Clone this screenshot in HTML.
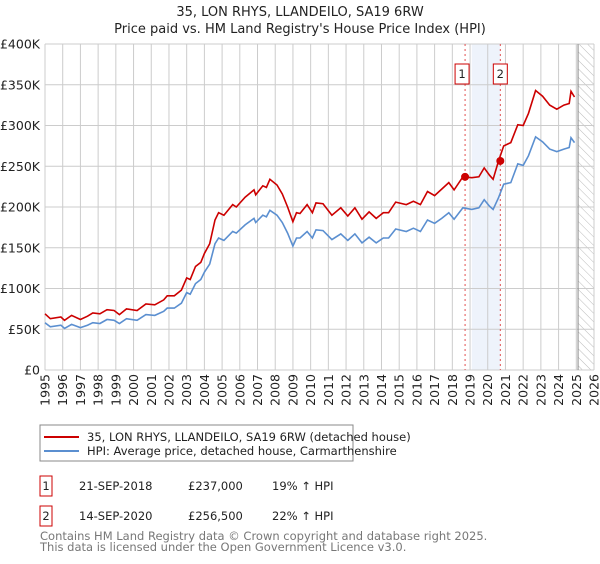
<!DOCTYPE html>
<html><head><meta charset="utf-8"><style>
body{margin:0;background:#fff;width:600px;height:560px;overflow:hidden;font-family:"DejaVu Sans","Liberation Sans",sans-serif;}
svg text{font-family:"DejaVu Sans","Liberation Sans",sans-serif;}
</style></head><body>
<svg id="chart" width="600" height="560">
<defs><pattern id="hatch" patternUnits="userSpaceOnUse" width="6" height="6" patternTransform="rotate(-45)"><line x1="0" y1="0" x2="0" y2="6" stroke="#bbb" stroke-width="1"/></pattern></defs>
<text x="300" y="16" text-anchor="middle" font-size="13" fill="#222">35, LON RHYS, LLANDEILO, SA19 6RW</text>
<text x="300" y="33" text-anchor="middle" font-size="13" fill="#222">Price paid vs. HM Land Registry's House Price Index (HPI)</text>
<g id="grid"></g><g id="marks"></g><g id="axes"></g>
<rect x="40" y="425" width="313" height="36" fill="#fff" stroke="#888"/>
<line x1="44" y1="437" x2="79" y2="437" stroke="#cc0000" stroke-width="2"/>
<text x="87" y="441" font-size="11.5" fill="#222">35, LON RHYS, LLANDEILO, SA19 6RW (detached house)</text>
<line x1="44" y1="451" x2="79" y2="451" stroke="#5b8fd0" stroke-width="2"/>
<text x="87" y="455" font-size="11.5" fill="#222">HPI: Average price, detached house, Carmarthenshire</text>
<g>
<rect x="40" y="476" width="12" height="20" fill="#fff" stroke="#cc0000"/>
<text x="46" y="490" text-anchor="middle" font-size="11.5" fill="#222">1</text>
<text x="79" y="490" font-size="11.5" fill="#222">21-SEP-2018</text>
<text x="188" y="490" font-size="11.5" fill="#222">£237,000</text>
<text x="272" y="490" font-size="11.5" fill="#222">19% ↑ HPI</text></g>
<g>
<rect x="40" y="506" width="12" height="20" fill="#fff" stroke="#cc0000"/>
<text x="46" y="520" text-anchor="middle" font-size="11.5" fill="#222">2</text>
<text x="79" y="520" font-size="11.5" fill="#222">14-SEP-2020</text>
<text x="188" y="520" font-size="11.5" fill="#222">£256,500</text>
<text x="272" y="520" font-size="11.5" fill="#222">22% ↑ HPI</text></g>
<text x="40" y="540" font-size="11.5" fill="#777">Contains HM Land Registry data © Crown copyright and database right 2025.</text>
<text x="40" y="551" font-size="11.5" fill="#777">This data is licensed under the Open Government Licence v3.0.</text>
</svg>
<script>
const years=[1995.0,1995.3,1995.9,1996.1,1996.5,1997.0,1997.4,1997.7,1998.1,1998.5,1998.9,1999.2,1999.6,2000.2,2000.7,2001.2,2001.7,2001.9,2002.3,2002.7,2003.0,2003.2,2003.5,2003.8,2004.0,2004.3,2004.6,2004.8,2005.1,2005.6,2005.8,2006.3,2006.8,2006.9,2007.3,2007.5,2007.7,2008.1,2008.4,2008.7,2009.0,2009.2,2009.4,2009.8,2010.1,2010.3,2010.7,2011.2,2011.7,2012.1,2012.5,2012.9,2013.3,2013.7,2014.1,2014.4,2014.8,2015.4,2015.8,2016.2,2016.6,2017.0,2017.4,2017.8,2018.1,2018.6,2019.1,2019.5,2019.8,2020.1,2020.3,2020.6,2020.9,2021.3,2021.7,2022.0,2022.3,2022.7,2023.1,2023.5,2023.9,2024.3,2024.6,2024.7,2024.9];
const hpiValues=[58,53,55,51,56,52,55,58,57,62,61,57,63,61,68,67,72,76,76,82,95,93,106,111,120,130,155,162,159,170,168,178,186,181,190,188,196,190,181,168,152,162,162,170,162,172,171,160,167,159,167,156,163,156,162,162,173,170,174,170,184,180,186,193,185,199,197,199,209,201,197,211,228,230,253,251,263,286,280,271,268,271,273,285,279];
const propValues=[69,63,65,61,67,62,66,70,69,74,73,68,75,73,81,80,86,91,91,98,113,111,127,132,143,155,184,193,190,203,200,212,221,215,226,224,234,227,216,200,182,193,192,203,193,205,204,190,199,189,199,185,194,186,193,193,206,203,207,203,219,214,222,230,221,237,236,237,248,239,234,256,275,279,301,300,315,343,336,325,320,325,327,342,335];
const saleYears=[2018.72,2020.71];
const salePrices=[237,256.5];
const saleLabels=["1","2"];
const yTicks=[0,50,100,150,200,250,300,350,400];
const yTickLabels=["£0","£50K","£100K","£150K","£200K","£250K","£300K","£350K","£400K"];
const xTicks=[1995,1996,1997,1998,1999,2000,2001,2002,2003,2004,2005,2006,2007,2008,2009,2010,2011,2012,2013,2014,2015,2016,2017,2018,2019,2020,2021,2022,2023,2024,2025,2026];

const L=45,R=594,T=44,B=370;
const X=y=>L+(y-1995)/(2026-1995)*(R-L);
const Y=v=>B-v/400*(B-T);
const NS="http://www.w3.org/2000/svg";
function mk(tag,attrs,parent){const e=document.createElementNS(NS,tag);for(const k in attrs)e.setAttribute(k,attrs[k]);parent.appendChild(e);return e;}
const grid=document.getElementById('grid'),marks=document.getElementById('marks'),axes=document.getElementById('axes');

let sh=mk('rect',{x:X(2019.1),y:T,width:X(2020.71)-X(2019.1),height:B-T,fill:'#eef3fb'},grid);


let ht=mk('rect',{x:X(2025.1),y:T,width:R-X(2025.1),height:B-T,fill:'url(#hatch)'},grid);



yTicks.forEach((v,i)=>{
 const g=mk('line',{x1:L,x2:R,y1:Y(v),y2:Y(v),stroke:'#ccc','stroke-width':1},grid);
 
 
 const t=mk('text',{x:40,y:Y(v)+4.5,'text-anchor':'end','font-size':12.5,fill:'#222'},axes);
 t.textContent=yTickLabels[i];
 
 
});
xTicks.forEach(yr=>{
 const g=mk('line',{x1:X(yr),x2:X(yr),y1:T,y2:B,stroke:'#ccc','stroke-width':1},grid);
 
 
 const t=mk('text',{x:0,y:0,'text-anchor':'end','font-size':12.5,fill:'#222',transform:`translate(${X(yr)+4.5},374) rotate(-90)`},axes);
 t.textContent=String(yr);
 
 
});
let nl=mk('line',{x1:X(2025.1),x2:X(2025.1),y1:T,y2:B,stroke:'#888','stroke-width':1},grid);



saleYears.forEach((yr,i)=>{
 const l=mk('line',{x1:X(yr),x2:X(yr),y1:T,y2:B,stroke:'#e05050','stroke-width':1,'stroke-dasharray':'2,3'},marks);
 
 
 const bx=mk('rect',{x:X(yr)-7-(i==0?3:0),y:64,width:14,height:20,fill:'#fff',stroke:'#cc0000'},marks);
 
 
 const t=mk('text',{x:X(yr)-(i==0?3:0),y:78,'text-anchor':'middle','font-size':11.5,fill:'#222'},marks);
 t.textContent=saleLabels[i];
 
 
});

const pts=vals=>years.map((yr,i)=>X(yr).toFixed(1)+','+Y(vals[i]).toFixed(1)).join(' ');
const hp=mk('polyline',{points:pts(hpiValues),fill:'none',stroke:'#5b8fd0','stroke-width':1.6},marks);


const pp=mk('polyline',{points:pts(propValues),fill:'none',stroke:'#cc0000','stroke-width':1.6},marks);


saleYears.forEach((yr,i)=>{
 const c=mk('circle',{cx:X(yr),cy:Y(salePrices[i]),r:4,fill:'#cc0000'},marks);
 
 
});
</script>
</body></html>
